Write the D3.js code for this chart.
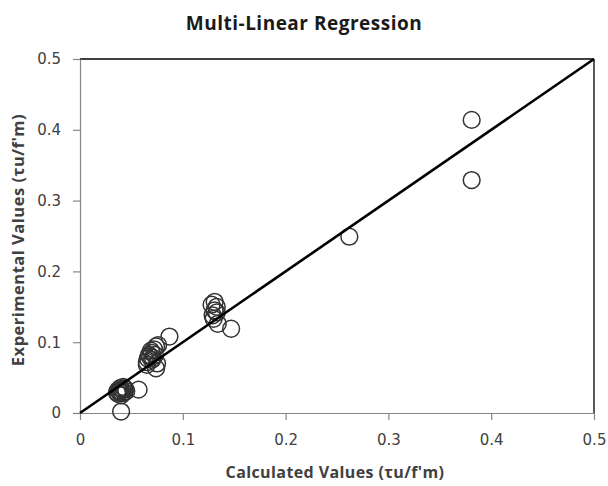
<!DOCTYPE html>
<html><head><meta charset="utf-8">
<script src="https://cdn.jsdelivr.net/npm/d3@7"></script>
<style>body{margin:0;background:#fff}svg{display:block}</style>
</head><body>
<svg id="c" width="608" height="486"></svg>
<script>
const calcValues = [0.040,0.037,0.039,0.041,0.043,0.045,0.040,0.042,0.057,0.038,0.044,0.041,0.036,0.039,0.043,0.037,
  0.065,0.065,0.066,0.068,0.070,0.072,0.074,0.076,0.075,0.074,0.070,0.087,0.067,0.071,0.069,0.073,
  0.128,0.131,0.133,0.133,0.130,0.134,0.147,0.131,0.129,0.262,0.381,0.381];
const expValues = [0.002,0.027,0.030,0.033,0.035,0.031,0.025,0.037,0.033,0.031,0.034,0.028,0.029,0.035,0.029,0.032,
  0.068,0.072,0.077,0.080,0.085,0.090,0.094,0.096,0.070,0.063,0.075,0.108,0.082,0.078,0.088,0.082,
  0.153,0.157,0.150,0.142,0.133,0.126,0.119,0.145,0.138,0.249,0.414,0.329];
const lineValues = [0, 0.5];
const tickValues = [0, 0.1, 0.2, 0.3, 0.4, 0.5];

const svg = d3.select("#c");
const m = {l:80, r:14, t:59, b:73};
const W = 608, H = 486;
const x = d3.scaleLinear().domain([0,0.5]).range([m.l, W-m.r]);
const y = d3.scaleLinear().domain([0,0.5]).range([H-m.b, m.t]);

// frame top/right
svg.append("line").attr("x1",x(0)).attr("x2",x(0.5)).attr("y1",y(0.5)).attr("y2",y(0.5)).attr("stroke","#000").attr("stroke-width",1.3);
svg.append("line").attr("x1",x(0.5)).attr("x2",x(0.5)).attr("y1",y(0.5)).attr("y2",y(0)).attr("stroke","#000").attr("stroke-width",1.3);

const fmt = d => d===0 ? "0" : d3.format(".1f")(d);
const xa = svg.append("g").attr("transform",`translate(0,${y(0)})`)
  .call(d3.axisBottom(x).tickValues(tickValues).tickFormat(fmt).tickSize(7).tickSizeOuter(0));
const ya = svg.append("g").attr("transform",`translate(${x(0)},0)`)
  .call(d3.axisLeft(y).tickValues(tickValues).tickFormat(fmt).tickSize(7).tickSizeOuter(0));
[xa,ya].forEach(a=>{
  a.select(".domain").attr("stroke","#868686").attr("stroke-width",1.2);
  a.selectAll(".tick line").attr("stroke","#868686").attr("stroke-width",1.2);
  a.selectAll("text").attr("fill","#404040").style("font-family","DejaVu Sans, Verdana, sans-serif").style("font-size","15px");
});
xa.selectAll("text").attr("dy","1.45em");
ya.selectAll("text").attr("x",-19);

// points
svg.append("g").selectAll("circle").data(calcValues.map((c,i)=>[c,expValues[i]])).join("circle")
  .attr("cx",d=>x(d[0])).attr("cy",d=>y(d[1])).attr("r",8.4)
  .attr("fill","none").attr("stroke","#333").attr("stroke-width",1.5);

// 1:1 line
svg.append("line").attr("x1",x(lineValues[0])).attr("y1",y(lineValues[0]))
  .attr("x2",x(lineValues[1])).attr("y2",y(lineValues[1]))
  .attr("stroke","#000").attr("stroke-width",2.6);

svg.append("text").attr("x",304).attr("y",30).attr("text-anchor","middle")
  .style("font-family","Open Sans, Liberation Sans, sans-serif").style("font-weight","bold").style("font-size","19px")
  .style("letter-spacing","0.5px")
  .attr("fill","#1a1a1a").text("Multi-Linear Regression");
svg.append("text").attr("x",335).attr("y",478).attr("text-anchor","middle")
  .style("font-family","Open Sans, Liberation Sans, sans-serif").style("font-weight","bold").style("font-size","16px")
  .style("letter-spacing","0.4px")
  .attr("fill","#404040").text("Calculated Values (τu/f'm)");
svg.append("text").attr("transform","translate(24,240) rotate(-90)").attr("text-anchor","middle")
  .style("font-family","Open Sans, Liberation Sans, sans-serif").style("font-weight","bold").style("font-size","16.5px")
  .style("letter-spacing","0.5px")
  .attr("fill","#404040").text("Experimental Values (τu/f'm)");
</script>
</body></html>
